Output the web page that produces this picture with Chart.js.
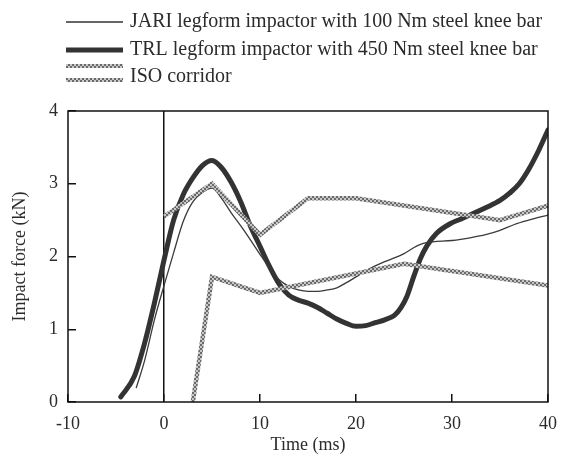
<!DOCTYPE html>
<html>
<head>
<meta charset="utf-8"/>
<title>Impact force</title>
<script src="https://cdn.jsdelivr.net/npm/chart.js"></script>
<style>
  body { margin: 0; background: #fff; }
  canvas { display: block; }
</style>
</head>
<body>
<canvas id="chart" width="563" height="456"></canvas>
<script>
// values
var jariTime  = [-2.9, -2.0, -1.0, 0, 1, 2, 3, 4, 5, 6, 7, 8, 9, 10, 11, 12, 13, 14, 15, 16, 17, 18, 19, 20, 21, 22, 23, 24, 25, 26, 27, 28, 30, 32, 33.5, 35, 36.5, 38, 40];
var jariForce = [0.19, 0.58, 1.13, 1.6, 2.05, 2.48, 2.75, 2.88, 2.94, 2.8, 2.6, 2.42, 2.23, 2.03, 1.84, 1.68, 1.59, 1.54, 1.52, 1.52, 1.54, 1.57, 1.64, 1.72, 1.8, 1.87, 1.93, 1.98, 2.04, 2.12, 2.18, 2.2, 2.22, 2.26, 2.3, 2.36, 2.44, 2.5, 2.57];

var trlTime  = [-4.5, -3.1, -2.0, -1.0, 0, 1, 2, 3, 4, 5, 6, 7, 8, 9, 10, 11, 12, 13, 14, 15, 16, 17, 18, 19, 20, 21, 22, 23, 24, 24.7, 25.3, 26, 26.7, 27.4, 28.4, 29.8, 31, 32.2, 33.5, 35, 36, 37, 38, 39, 40];
var trlForce = [0.07, 0.35, 0.82, 1.36, 1.95, 2.5, 2.85, 3.08, 3.25, 3.32, 3.22, 3.02, 2.75, 2.42, 2.14, 1.86, 1.62, 1.47, 1.4, 1.36, 1.3, 1.22, 1.14, 1.08, 1.04, 1.05, 1.09, 1.13, 1.19, 1.3, 1.45, 1.72, 1.97, 2.15, 2.32, 2.45, 2.52, 2.59, 2.67, 2.77, 2.87, 3.0, 3.2, 3.45, 3.74];

var isoUpperTime  = [0, 5, 10, 15, 20, 35, 40];
var isoUpperForce = [2.55, 3.0, 2.3, 2.8, 2.8, 2.5, 2.7];
var isoLowerTime  = [3, 5, 10, 25, 40];
var isoLowerForce = [0, 1.72, 1.5, 1.9, 1.6];

var xTicks = [-10, 0, 10, 20, 30, 40];
var yTicks = [0, 1, 2, 3, 4];

var legendLabels = [
    "JARI legform impactor with 100 Nm steel knee bar",
    "TRL legform impactor with 450 Nm steel knee bar",
    "ISO corridor"
];

function pts(xs, ys) {
    var out = [];
    for (var i = 0; i < xs.length; i++) out.push({x: xs[i], y: ys[i]});
    return out;
}

// grey braided look of the corridor lines
function isoPattern() {
    var c = document.createElement("canvas");
    c.width = 4; c.height = 4;
    var g = c.getContext("2d");
    g.fillStyle = "#c8c8c8";
    g.fillRect(0, 0, 4, 4);
    g.fillStyle = "#6a6a6a";
    g.fillRect(0, 0, 2, 2);
    g.fillRect(2, 2, 2, 2);
    return g.createPattern(c, "repeat");
}
var iso = isoPattern();

var serif = "'Liberation Serif', 'Times New Roman', serif";
var ink = "#2b2b2b";

var legendAndFrame = {
    id: "legendAndFrame",
    afterDraw: function(chart) {
        var ctx = chart.ctx, a = chart.chartArea;
        ctx.save();
        ctx.strokeStyle = "#111";
        ctx.lineWidth = 1.5;
        ctx.strokeRect(a.left, a.top, a.right - a.left, a.bottom - a.top);

        var x0 = 66, x1 = 123, tx = 130;
        ctx.lineCap = "butt";
        ctx.strokeStyle = "#333";
        ctx.lineWidth = 1.3;
        ctx.beginPath(); ctx.moveTo(x0, 22); ctx.lineTo(x1, 22); ctx.stroke();
        ctx.lineWidth = 5;
        ctx.beginPath(); ctx.moveTo(x0, 50); ctx.lineTo(x1, 50); ctx.stroke();
        ctx.strokeStyle = iso;
        ctx.lineWidth = 4;
        ctx.beginPath(); ctx.moveTo(x0, 66); ctx.lineTo(x1, 66); ctx.stroke();
        ctx.beginPath(); ctx.moveTo(x0, 80); ctx.lineTo(x1, 80); ctx.stroke();

        ctx.fillStyle = ink;
        ctx.font = "20px " + serif;
        ctx.textBaseline = "middle";
        ctx.fillText(legendLabels[0], tx, 22);
        ctx.fillText(legendLabels[1], tx, 50);
        ctx.fillText(legendLabels[2], tx, 77);
        ctx.restore();
    }
};

new Chart(document.getElementById("chart"), {
    type: "line",
    data: {
        datasets: [
            { label: "ISO upper", data: pts(isoUpperTime, isoUpperForce), borderColor: iso, borderWidth: 4.5, tension: 0, pointRadius: 0 },
            { label: "ISO lower", data: pts(isoLowerTime, isoLowerForce), borderColor: iso, borderWidth: 4.5, tension: 0, pointRadius: 0 },
            { label: legendLabels[0], data: pts(jariTime, jariForce), borderColor: "#3a3a3a", borderWidth: 1.3, cubicInterpolationMode: "monotone", pointRadius: 0 },
            { label: legendLabels[1], data: pts(trlTime, trlForce), borderColor: "#333", borderWidth: 5, cubicInterpolationMode: "monotone", pointRadius: 0, borderCapStyle: "round", borderJoinStyle: "round" }
        ]
    },
    options: {
        responsive: false,
        animation: false,
        layout: { padding: { top: 111, right: 15 } },
        plugins: { legend: { display: false }, tooltip: { enabled: false } },
        scales: {
            x: {
                type: "linear",
                min: -10, max: 40,
                afterBuildTicks: function(s) { s.ticks = xTicks.map(function(v) { return {value: v}; }); },
                afterFit: function(s) { s.height = 54; s.paddingLeft = 0; s.paddingRight = 0; },
                border: { display: false },
                grid: {
                    drawOnChartArea: true,
                    color: function(c) { return c.tick && c.tick.value === 0 ? "#111" : "rgba(0,0,0,0)"; },
                    lineWidth: 1.5,
                    tickColor: "#111",
                    tickLength: -8
                },
                ticks: { color: ink, font: { family: serif, size: 18 }, padding: 19, maxRotation: 0 },
                title: { display: true, text: "Time (ms)", color: ink, font: { family: serif, size: 18 }, padding: { top: 0, bottom: 0 } }
            },
            y: {
                min: 0, max: 4,
                afterBuildTicks: function(s) { s.ticks = yTicks.map(function(v) { return {value: v}; }); },
                afterFit: function(s) { s.width = 68; s.paddingTop = 0; s.paddingBottom = 0; },
                border: { display: false },
                grid: {
                    drawOnChartArea: false,
                    tickColor: "#111",
                    lineWidth: 1.5,
                    tickLength: -8
                },
                ticks: { color: ink, font: { family: serif, size: 18 }, padding: 18 },
                title: { display: true, text: "Impact force (kN)", color: ink, font: { family: serif, size: 18 }, padding: { top: 9, bottom: 0 } }
            }
        }
    },
    plugins: [legendAndFrame]
});
</script>
</body>
</html>
